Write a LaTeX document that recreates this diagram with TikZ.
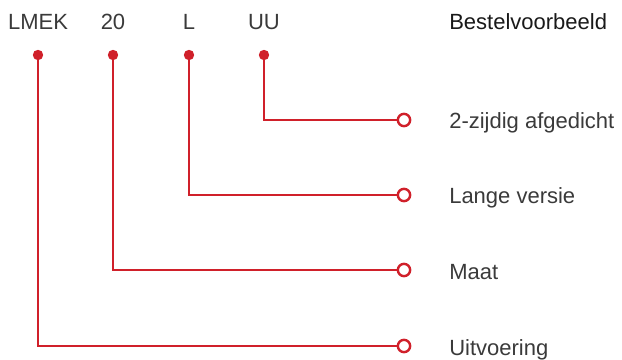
\documentclass[tikz,border=0pt]{standalone}
\usepackage{fontspec}
\setmainfont{Liberation Sans}
\usepackage{tikz}
\usetikzlibrary{positioning}
\definecolor{codered}{HTML}{D0202A}
\definecolor{txtgray}{HTML}{3A3A3A}

\begin{document}
\begin{tikzpicture}[x=0.75pt, y=-0.75pt, node distance=7mm and 10mm,
    every node/.style={font=\fontsize{16.5}{19}\selectfont, text=txtgray},
    code/.style={anchor=base, inner sep=0pt},
    pin/.style={circle, fill=codered, inner sep=0pt, minimum size=7.8pt},
    endpt/.style={circle, draw=codered, fill=white, line width=1.8pt, inner sep=0pt, minimum size=9.2pt},
    desc/.style={anchor=base west, inner sep=0pt},
    redline/.style={draw=codered, line width=1.8pt}]
    \useasboundingbox (0,0) rectangle (622,360);
    % codes of the order example
    \node[code] (lmek) at (38,30) {LMEK};
    \node[code] (size) at (113,30) {20};
    \node[code] (long) at (189,30) {L};
    \node[code] (seal) at (264,30) {UU};
    \node[desc, text=black!90] (title) at (449,30) {Bestelvoorbeeld};
    \node[pin] (plmek) at (38,55) {};
    \node[pin] (psize) at (113,55) {};
    \node[pin] (plong) at (189,55) {};
    \node[pin] (pseal) at (264,55) {};
    \node[endpt] (eseal) at (404,120) {};
    \node[endpt] (elong) at (404,195) {};
    \node[endpt] (esize) at (404,270) {};
    \node[endpt] (elmek) at (404,346) {};
    \node[desc] (dseal) at (449,129) {2-zijdig afgedicht};
    \node[desc] (dlong) at (449,204) {Lange versie};
    \node[desc] (dsize) at (449,279) {Maat};
    \node[desc] (dlmek) at (449,355) {Uitvoering};
    \draw[redline] (pseal) |- (eseal);
    \draw[redline] (plong) |- (elong);
    \draw[redline] (psize) |- (esize);
    \draw[redline] (plmek) |- (elmek);
  \end{tikzpicture}
\end{document}
